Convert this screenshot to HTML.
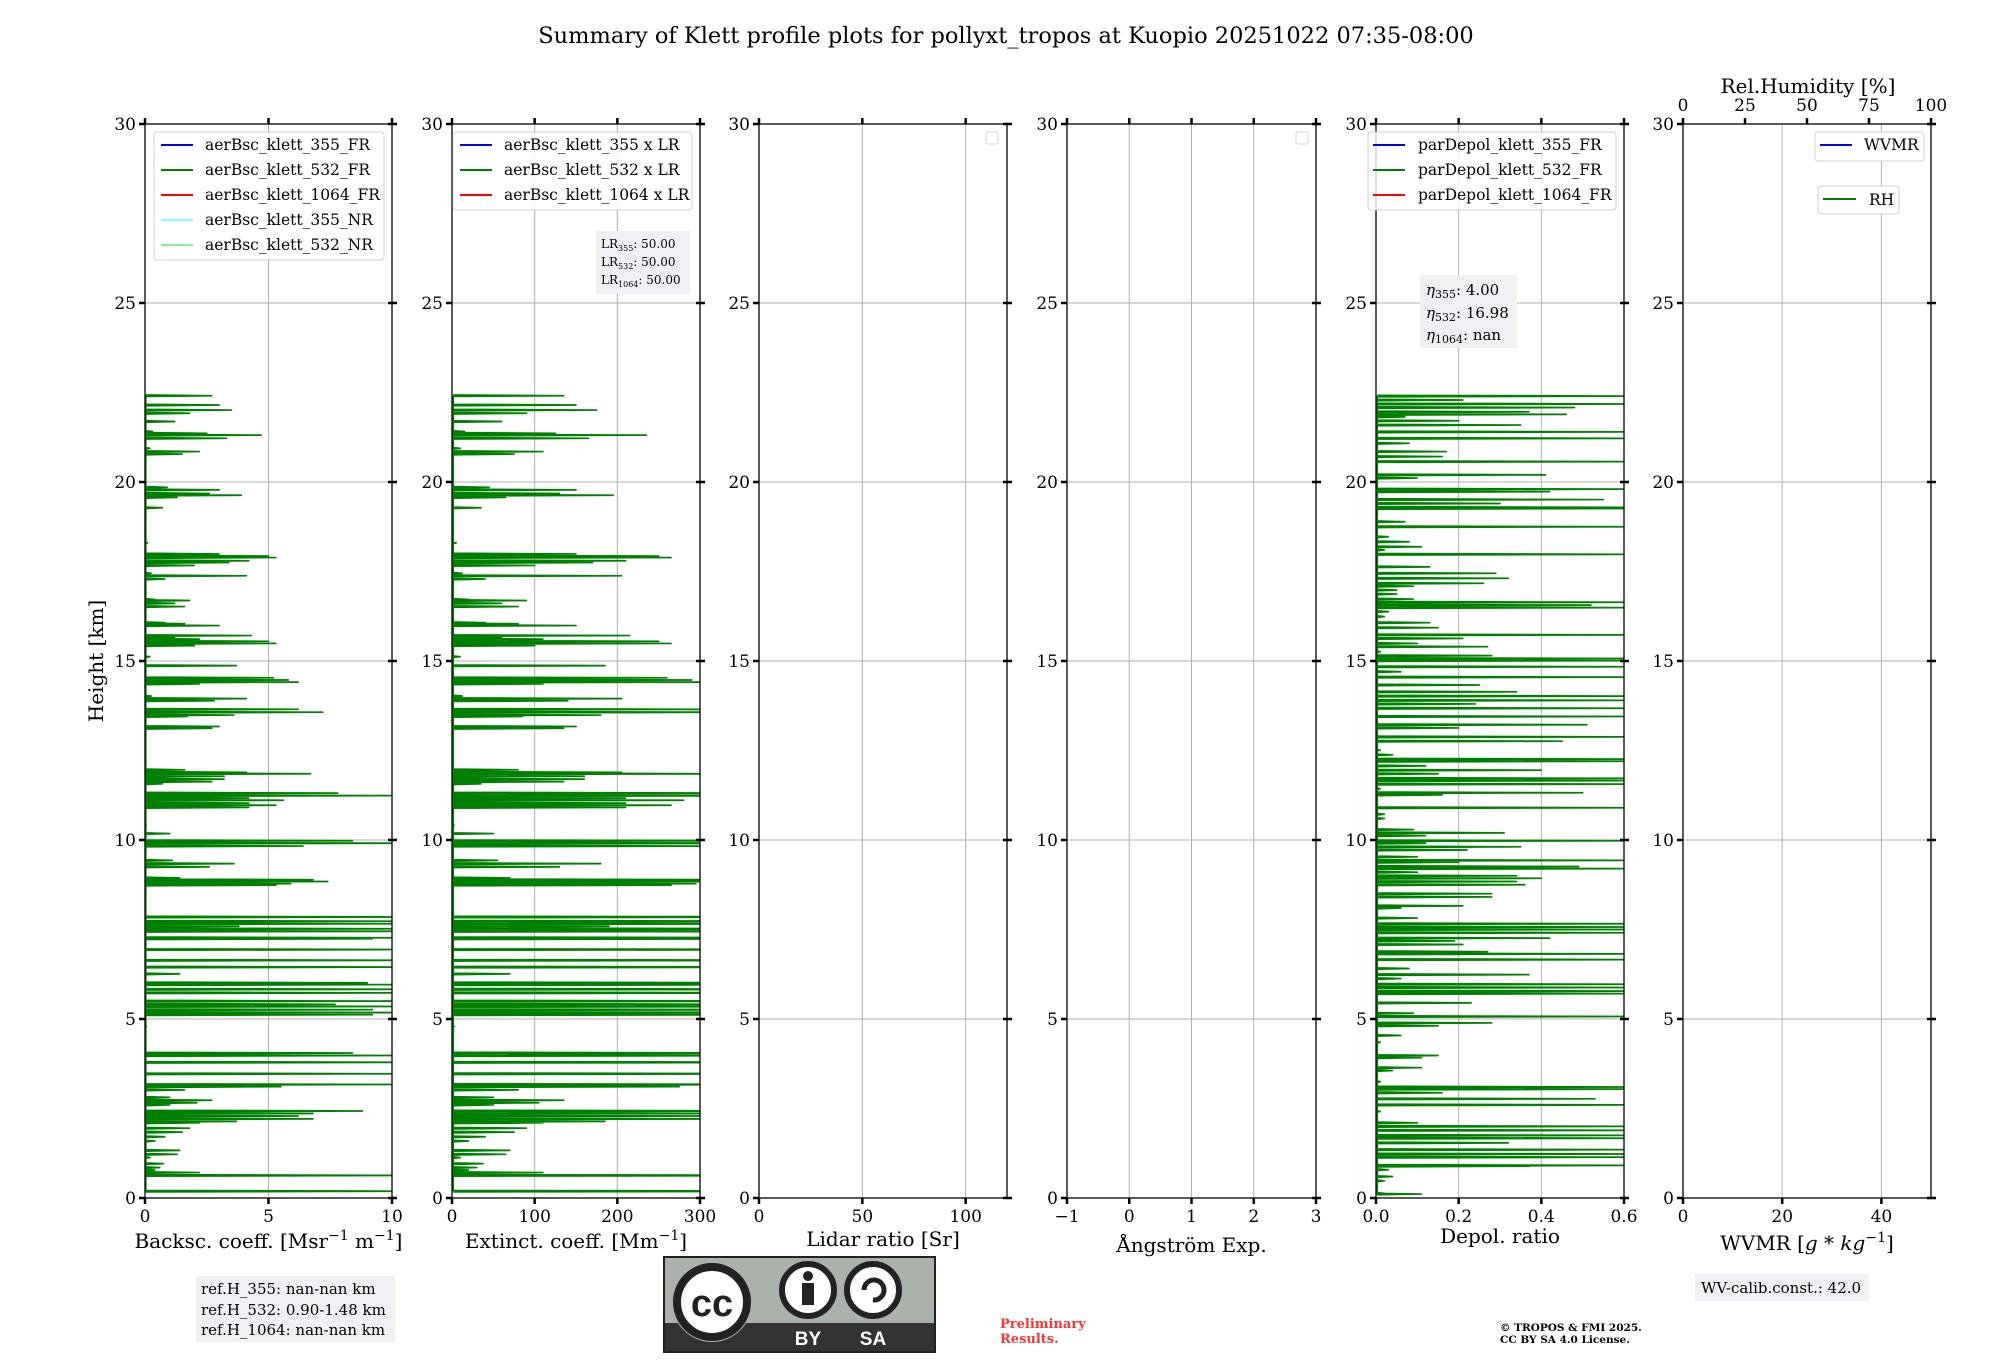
<!DOCTYPE html>
<html><head><meta charset="utf-8"><style>
html,body{margin:0;padding:0;background:#fff;}
svg{display:block;font-family:"DejaVu Serif","Liberation Serif",serif;}
</style></head><body>
<svg id="fig" width="2000" height="1360" viewBox="0 0 2000 1360" xmlns="http://www.w3.org/2000/svg">
<text x="1006" y="43" font-size="22.5" text-anchor="middle">Summary of Klett profile plots for pollyxt_tropos at Kuopio 20251022 07:35-08:00</text>
<text transform="translate(103,661) rotate(-90)" font-size="20" text-anchor="middle">Height [km]</text>
<g id="panels"></g>
<g>
<rect x="154" y="132" width="230" height="128" rx="3" fill="#fff" fill-opacity="0.8" stroke="#d0d0d0"/>
<line x1="161" y1="145" x2="193" y2="145" stroke="#0000ff" stroke-width="2"/><text x="205" y="150" font-size="15.5">aerBsc_klett_355_FR</text>
<line x1="161" y1="170" x2="193" y2="170" stroke="#008000" stroke-width="2"/><text x="205" y="175" font-size="15.5">aerBsc_klett_532_FR</text>
<line x1="161" y1="195" x2="193" y2="195" stroke="#ff0000" stroke-width="2"/><text x="205" y="200" font-size="15.5">aerBsc_klett_1064_FR</text>
<line x1="161" y1="220" x2="193" y2="220" stroke="#80ffff" stroke-width="2"/><text x="205" y="225" font-size="15.5">aerBsc_klett_355_NR</text>
<line x1="161" y1="245" x2="193" y2="245" stroke="#90ee90" stroke-width="2"/><text x="205" y="250" font-size="15.5">aerBsc_klett_532_NR</text>
</g>
<g>
<rect x="453" y="132" width="239" height="78" rx="3" fill="#fff" fill-opacity="0.8" stroke="#d0d0d0"/>
<line x1="460" y1="145" x2="492" y2="145" stroke="#0000ff" stroke-width="2"/><text x="504" y="150" font-size="15.5">aerBsc_klett_355 x LR</text>
<line x1="460" y1="170" x2="492" y2="170" stroke="#008000" stroke-width="2"/><text x="504" y="175" font-size="15.5">aerBsc_klett_532 x LR</text>
<line x1="460" y1="195" x2="492" y2="195" stroke="#ff0000" stroke-width="2"/><text x="504" y="200" font-size="15.5">aerBsc_klett_1064 x LR</text>
</g>
<g>
<rect x="596" y="231" width="94" height="63" fill="#eff0f4"/>
<text x="601" y="248" font-size="12">LR<tspan font-size="8" dy="3">355</tspan><tspan dy="-3">: 50.00</tspan></text>
<text x="601" y="266" font-size="12">LR<tspan font-size="8" dy="3">532</tspan><tspan dy="-3">: 50.00</tspan></text>
<text x="601" y="284" font-size="12">LR<tspan font-size="8" dy="3">1064</tspan><tspan dy="-3">: 50.00</tspan></text>
</g>
<rect x="986" y="132" width="12" height="12" rx="2" fill="#fff" stroke="#d0d0d0"/>
<rect x="1296" y="132" width="12" height="12" rx="2" fill="#fff" stroke="#d0d0d0"/>
<g>
<rect x="1368" y="132" width="248" height="78" rx="3" fill="#fff" fill-opacity="0.8" stroke="#d0d0d0"/>
<line x1="1373" y1="145" x2="1405" y2="145" stroke="#0000ff" stroke-width="2"/><text x="1418" y="150" font-size="15.5">parDepol_klett_355_FR</text>
<line x1="1373" y1="170" x2="1405" y2="170" stroke="#008000" stroke-width="2"/><text x="1418" y="175" font-size="15.5">parDepol_klett_532_FR</text>
<line x1="1373" y1="195" x2="1405" y2="195" stroke="#ff0000" stroke-width="2"/><text x="1418" y="200" font-size="15.5">parDepol_klett_1064_FR</text>
</g>
<g>
<rect x="1420" y="275" width="97" height="73" fill="#eff0f4"/>
<text x="1426" y="295" font-size="15"><tspan font-style="italic">η</tspan><tspan font-size="11" dy="3">355</tspan><tspan dy="-3">: 4.00</tspan></text>
<text x="1426" y="318" font-size="15"><tspan font-style="italic">η</tspan><tspan font-size="11" dy="3">532</tspan><tspan dy="-3">: 16.98</tspan></text>
<text x="1426" y="340" font-size="15"><tspan font-style="italic">η</tspan><tspan font-size="11" dy="3">1064</tspan><tspan dy="-3">: nan</tspan></text>
</g>
<g>
<rect x="1815" y="132" width="109" height="29" rx="3" fill="#fff" stroke="#d0d0d0"/>
<line x1="1820" y1="145" x2="1852" y2="145" stroke="#0000ff" stroke-width="2"/><text x="1864" y="150" font-size="15.5">WVMR</text>
</g>
<g>
<rect x="1818" y="186" width="81" height="28" rx="3" fill="#fff" stroke="#d0d0d0"/>
<line x1="1823" y1="199" x2="1856" y2="199" stroke="#008000" stroke-width="2"/><text x="1869" y="205" font-size="15.5">RH</text>
</g>
<text x="1808" y="93" font-size="20" text-anchor="middle">Rel.Humidity [%]</text>
<g>
<rect x="196" y="1276" width="199" height="66" fill="#eff0f4"/>
<text x="201" y="1294" font-size="15">ref.H_355: nan-nan km</text>
<text x="201" y="1315" font-size="15">ref.H_532: 0.90-1.48 km</text>
<text x="201" y="1335" font-size="15">ref.H_1064: nan-nan km</text>
</g>
<g>
<rect x="1695" y="1274" width="174" height="27" fill="#eff0f4"/>
<text x="1701" y="1293" font-size="15">WV-calib.const.: 42.0</text>
</g>
<g>
<rect x="664" y="1257" width="271" height="95" fill="#aab2ab" stroke="#222" stroke-width="2"/>
<rect x="665" y="1323" width="269" height="28" fill="#333"/>
<circle cx="712" cy="1302" r="40" fill="#aab2ab"/>
<circle cx="712" cy="1302" r="35" fill="#fff" stroke="#222" stroke-width="8"/>
<text x="712" y="1316" font-family="Liberation Sans,sans-serif" font-weight="bold" font-size="38" text-anchor="middle" fill="#222">cc</text>
<circle cx="808" cy="1290" r="26" fill="#fff" stroke="#222" stroke-width="6"/>
<circle cx="808" cy="1276" r="5" fill="#222"/>
<rect x="802" y="1283" width="12" height="22" fill="#222"/>
<circle cx="873" cy="1290" r="26" fill="#fff" stroke="#222" stroke-width="6"/>
<path d="M864 1290 A10 10 0 1 1 873 1300" fill="none" stroke="#222" stroke-width="5"/>
<text x="808" y="1345" font-family="Liberation Sans,sans-serif" font-weight="bold" font-size="19" text-anchor="middle" fill="#fff">BY</text>
<text x="873" y="1345" font-family="Liberation Sans,sans-serif" font-weight="bold" font-size="19" text-anchor="middle" fill="#fff">SA</text>
</g>
<text x="1000" y="1328" font-size="13" font-weight="bold" fill="#ff3333">Preliminary<tspan x="1000" dy="15">Results.</tspan></text>
<text x="1500" y="1331" font-size="10.5" font-weight="bold">© TROPOS &amp; FMI 2025.<tspan x="1500" dy="12">CC BY SA 4.0 License.</tspan></text>
</svg>
<script>
// ---- data (heights in km) ----
const yTicks = [0, 5, 10, 15, 20, 25, 30];
const lidarRatio532 = 50;
const bscHeights = [22.41,22.15,22.01,21.92,21.69,21.41,21.36,21.31,21.22,20.94,20.85,20.78,19.85,19.78,19.68,19.63,19.57,19.28,18.30,17.99,17.93,17.89,17.80,17.75,17.67,17.45,17.38,17.29,16.72,16.69,16.61,16.52,16.07,16.04,15.99,15.71,15.66,15.61,15.55,15.49,15.43,15.12,14.87,14.53,14.47,14.41,14.36,14.02,13.95,13.89,13.65,13.57,13.49,13.45,13.17,13.12,11.96,11.89,11.85,11.78,11.70,11.63,11.57,11.31,11.24,11.17,11.11,11.03,10.97,10.91,10.41,10.18,9.98,9.91,9.83,9.43,9.34,9.25,8.94,8.89,8.84,8.78,8.74,7.85,7.73,7.66,7.59,7.52,7.45,7.27,7.24,6.94,6.64,6.45,6.26,6.01,5.96,5.83,5.73,5.50,5.41,5.35,5.26,5.18,5.12,4.79,4.05,3.98,3.79,3.47,3.17,3.11,3.02,2.81,2.73,2.66,2.60,2.43,2.36,2.29,2.21,2.14,2.10,1.95,1.84,1.71,1.59,1.33,1.22,1.13,0.96,0.85,0.78,0.71,0.63,0.19];
const bsc532 = [2.7,3.0,3.5,1.8,1.2,0.3,2.5,4.7,3.3,0.2,2.2,1.5,0.9,3.0,2.6,3.9,1.3,0.7,0.1,3.0,5.0,5.3,4.2,3.4,2.0,0.25,4.1,0.8,0.4,1.8,1.2,1.6,0.8,1.6,3.0,4.3,1.2,2.2,5.0,5.3,2.0,0.2,3.7,5.2,5.8,6.2,2.2,0.25,4.1,2.8,6.2,7.2,3.6,1.7,3.0,2.7,1.6,4.1,6.7,3.2,3.2,2.7,0.7,7.8,10.5,4.2,5.6,4.2,5.3,4.2,0.05,1.0,8.4,10.5,6.4,1.1,3.6,2.6,1.4,6.8,7.4,5.9,5.3,10.5,10.5,10.5,3.8,10.5,10.5,10.5,9.2,10.5,10.5,10.5,1.4,9.0,10.5,10.5,10.5,10.5,7.7,10.5,9.2,10.5,9.2,0.05,8.4,10.5,10.5,10.5,10.5,5.5,1.6,1.0,2.7,2.1,1.0,8.8,6.8,6.2,6.8,3.7,2.2,1.8,1.5,0.8,0.4,1.4,1.3,0.2,0.75,0.6,0.4,2.2,10.5,10.5];
const depolHeights = [22.40,22.29,22.18,22.08,21.96,21.89,21.82,21.71,21.59,21.40,21.22,21.08,20.85,20.71,20.57,20.20,20.11,19.80,19.73,19.51,19.40,19.29,19.26,18.89,18.75,18.47,18.33,18.19,18.10,17.98,17.63,17.45,17.31,17.17,17.09,16.98,16.87,16.73,16.64,16.56,16.49,16.38,16.24,16.07,15.93,15.73,15.63,15.49,15.40,15.26,15.15,15.07,15.01,14.84,14.70,14.55,14.33,14.14,14.02,13.90,13.80,13.68,13.45,13.22,13.13,12.88,12.76,12.51,12.38,12.26,12.20,12.07,11.95,11.85,11.72,11.66,11.56,11.43,11.32,11.26,10.90,10.72,10.60,10.29,10.20,10.12,9.98,9.91,9.81,9.72,9.53,9.43,9.38,9.26,9.20,9.10,9.00,8.93,8.84,8.75,8.50,8.41,8.16,8.10,7.82,7.66,7.57,7.50,7.41,7.26,7.18,7.08,6.88,6.82,6.66,6.41,6.24,6.13,5.97,5.88,5.78,5.71,5.45,5.16,5.07,4.89,4.81,4.54,4.35,3.98,3.92,3.64,3.56,3.25,3.10,3.04,2.94,2.77,2.60,2.42,2.10,2.00,1.89,1.75,1.67,1.54,1.35,1.23,1.14,0.91,0.89,0.79,0.60,0.48,0.13,0.11];
const depol532 = [0.62,0.21,0.62,0.48,0.37,0.46,0.07,0.2,0.35,0.62,0.62,0.08,0.17,0.16,0.62,0.41,0.1,0.62,0.42,0.55,0.3,0.62,0.62,0.07,0.62,0.03,0.08,0.11,0.02,0.62,0.13,0.29,0.32,0.26,0.09,0.05,0.05,0.09,0.62,0.52,0.62,0.03,0.02,0.13,0.15,0.62,0.21,0.1,0.27,0.01,0.28,0.62,0.62,0.62,0.06,0.62,0.25,0.34,0.62,0.62,0.24,0.62,0.62,0.51,0.2,0.62,0.45,0.01,0.04,0.62,0.62,0.12,0.4,0.15,0.62,0.62,0.62,0.01,0.5,0.16,0.62,0.02,0.02,0.09,0.31,0.12,0.62,0.12,0.35,0.22,0.1,0.62,0.2,0.49,0.62,0.1,0.34,0.4,0.34,0.36,0.28,0.28,0.21,0.06,0.1,0.62,0.62,0.62,0.62,0.42,0.19,0.21,0.27,0.62,0.62,0.08,0.37,0.06,0.62,0.62,0.62,0.62,0.23,0.09,0.62,0.28,0.15,0.06,0.01,0.15,0.11,0.11,0.04,0.01,0.62,0.62,0.16,0.53,0.62,0.01,0.1,0.62,0.62,0.62,0.62,0.32,0.62,0.62,0.62,0.62,0.37,0.03,0.04,0.02,0.02,0.11];
const bscTicks = [0, 5, 10];
const extTicks = [0, 100, 200, 300];
const lrTicks = [0, 50, 100];
const angTicks = [-1, 0, 1, 2, 3];
const depolTicks = [0.0, 0.2, 0.4, 0.6];
const wvmrTicks = [0, 20, 40];
const rhTicks = [0, 25, 50, 75, 100];

const NS = 'http://www.w3.org/2000/svg';
const Y0 = 1198, Y30 = 124;
function yScale(h){ return Y0 + (Y30 - Y0) * h / 30; }
function mk(tag, attrs, parent){
  const e = document.createElementNS(NS, tag);
  for (const k in attrs) e.setAttribute(k, attrs[k]);
  if (parent) parent.appendChild(e);
  return e;
}
const root = document.getElementById('panels');
const panelDefs = [
  {id:'backscatter', x0:145, x1:392, min:0, max:10, ticks:bscTicks, fmt:v=>String(v), label:'bsc', ly:1248},
  {id:'extinction', x0:452, x1:700, min:0, max:300, ticks:extTicks, fmt:v=>String(v), label:'ext', ly:1248},
  {id:'lidar-ratio', x0:759, x1:1007, min:0, max:120, ticks:lrTicks, fmt:v=>String(v), label:'Lidar ratio [Sr]', ly:1246},
  {id:'angstrom', x0:1067, x1:1316, min:-1, max:3, ticks:angTicks, fmt:v=>String(v).replace('-','\u2212'), label:'Ångström Exp.', ly:1252},
  {id:'depol', x0:1376, x1:1624, min:0, max:0.6, ticks:depolTicks, fmt:v=>v.toFixed(1), label:'Depol. ratio', ly:1243},
  {id:'wvmr', x0:1683, x1:1931, min:0, max:50, ticks:wvmrTicks, fmt:v=>String(v), label:'wvmr', ly:1250}
];
panelDefs.forEach(function(p){
  const g = mk('g', {}, root);
  
  
  const xs = v => p.x0 + (p.x1 - p.x0) * (v - p.min) / (p.max - p.min);
  p.ticks.forEach(function(t){
    if (xs(t) > p.x0 + 1 && xs(t) < p.x1 - 1) {
      const l = mk('line', {x1:xs(t), x2:xs(t), y1:Y30, y2:Y0, stroke:'#b0b0b0', 'stroke-width':1}, g);
      
      
    }
  });
  yTicks.forEach(function(h){
    if (h > 0 && h < 30) {
      const l = mk('line', {x1:p.x0, x2:p.x1, y1:yScale(h), y2:yScale(h), stroke:'#b0b0b0', 'stroke-width':1}, g);
      
      
    }
  });
  const cp = mk('clipPath', {id:'clip-' + p.id}, g);
  mk('rect', {x:p.x0, y:Y30, width:p.x1 - p.x0, height:Y0 - Y30}, cp);
  let hs = null, vs = null, mult = 1;
  if (p.id === 'backscatter') { hs = bscHeights; vs = bsc532; }
  if (p.id === 'extinction') { hs = bscHeights; vs = bsc532; mult = lidarRatio532; }
  if (p.id === 'depol') { hs = depolHeights; vs = depol532; }
  if (hs) {
    const base = p.id === 'depol' ? 0.003 : 0.03 * mult;
    let d = '';
    for (let i = 0; i < hs.length; i++) {
      const v = vs[i] * mult;
      d += (i === 0 ? 'M' : 'L') + xs(base) + ' ' + yScale(hs[i] + 0.02) +
           ' L' + xs(v) + ' ' + yScale(hs[i]) +
           ' L' + xs(base) + ' ' + yScale(hs[i] - 0.02) + ' ';
    }
    const path = mk('path', {d:d, fill:'none', stroke:'#008000', 'stroke-width':1.7, 'stroke-linejoin':'round', 'clip-path':'url(#clip-' + p.id + ')'}, g);
    
    
  }
  const fr = mk('rect', {x:p.x0, y:Y30, width:p.x1 - p.x0, height:Y0 - Y30, fill:'none', stroke:'#000', 'stroke-width':1.3}, g);
  
  
  yTicks.forEach(function(h){
    const y = yScale(h);
    mk('line', {x1:p.x0 - 6, x2:p.x0, y1:y, y2:y, stroke:'#000', 'stroke-width':2.5}, g);
    mk('line', {x1:p.x1 - 4, x2:p.x1 + 5, y1:y, y2:y, stroke:'#000', 'stroke-width':2.5}, g);
    const t = mk('text', {x:p.x0 - 9, y:y + 6, 'font-size':17, 'text-anchor':'end'}, g);
    t.textContent = String(h);
    
    
  });
  p.ticks.forEach(function(v){
    const x = xs(v);
    mk('line', {x1:x, x2:x, y1:Y0, y2:Y0 + 6, stroke:'#000', 'stroke-width':2.5}, g);
    if (p.id !== 'wvmr') mk('line', {x1:x, x2:x, y1:Y30 - 6, y2:Y30, stroke:'#000', 'stroke-width':2.5}, g);
    const t = mk('text', {x:x, y:Y0 + 24, 'font-size':17, 'text-anchor':'middle'}, g);
    t.textContent = p.fmt(v);
    
    
  });
  const cx = (p.x0 + p.x1) / 2;
  const lab = mk('text', {x:cx, y:p.ly, 'font-size':20, 'text-anchor':'middle'}, g);
  
  
  if (p.label === 'bsc') {
    lab.innerHTML = 'Backsc. coeff. [Msr<tspan font-size="14" dy="-8">−1</tspan><tspan dy="8"> m</tspan><tspan font-size="14" dy="-8">−1</tspan><tspan dy="8">]</tspan>';
  } else if (p.label === 'ext') {
    lab.innerHTML = 'Extinct. coeff. [Mm<tspan font-size="14" dy="-8">−1</tspan><tspan dy="8">]</tspan>';
  } else if (p.label === 'wvmr') {
    lab.innerHTML = 'WVMR [<tspan font-style="italic">g</tspan> * <tspan font-style="italic">kg</tspan><tspan font-size="14" dy="-8">−1</tspan><tspan dy="8">]</tspan>';
  } else {
    lab.textContent = p.label;
  }
  if (p.id === 'wvmr') {
    const rs = v => p.x0 + (p.x1 - p.x0) * v / 100;
    rhTicks.forEach(function(v){
      mk('line', {x1:rs(v), x2:rs(v), y1:Y30 - 6, y2:Y30, stroke:'#000', 'stroke-width':2.5}, g);
      const t = mk('text', {x:rs(v), y:Y30 - 13, 'font-size':17, 'text-anchor':'middle'}, g);
      t.textContent = String(v);
      
      
    });
  }
});
</script>
</body></html>
